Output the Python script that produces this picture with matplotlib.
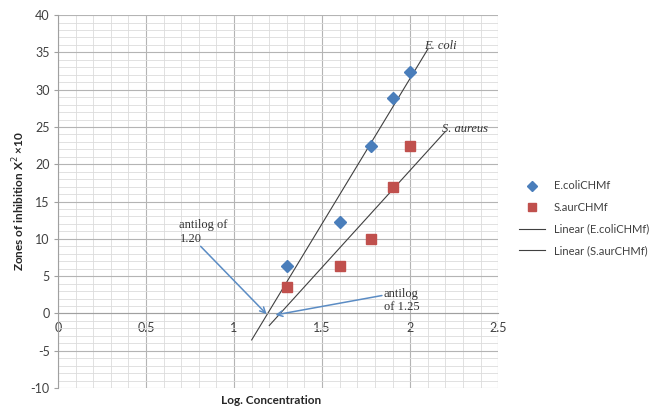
import numpy as np
import matplotlib
matplotlib.use("Agg")
import matplotlib.pyplot as plt
from matplotlib.ticker import MultipleLocator

# log10 of concentrations 20, 40, 60, 80, 100
log_conc = [1.301, 1.602, 1.778, 1.903, 2.0]
ecoli = [6.4, 12.2, 22.5, 28.9, 32.4]
saureus = [3.5, 6.3, 10.0, 16.9, 22.4]

# trendline extents (Excel forecast backward/forward)
ecoli_span = [1.10, 2.10]
saureus_span = [1.20, 2.20]

x_ticks = [0, 0.5, 1, 1.5, 2, 2.5]
x_tick_labels = ["0", "0.5", "1", "1.5", "2", "2.5"]

plt.rcParams["font.family"] = ["Lato", "DejaVu Sans"]
plt.rcParams["axes.unicode_minus"] = False

fig = plt.figure(figsize=(6.52, 4.08), dpi=100)
ax = fig.add_axes([0.089, 0.049, 0.675, 0.914])

ax.set_xlim(0, 2.5)
ax.set_ylim(-10, 40)
ax.xaxis.set_major_locator(MultipleLocator(0.5))
ax.xaxis.set_minor_locator(MultipleLocator(0.1))
ax.yaxis.set_major_locator(MultipleLocator(5))
ax.yaxis.set_minor_locator(MultipleLocator(1))
ax.grid(which="major", color="#b4b4b4", linewidth=0.8)
ax.grid(which="minor", color="#dcdcdc", linewidth=0.6)
ax.set_axisbelow(True)

for side in ["top", "right"]:
    ax.spines[side].set_visible(False)
ax.spines["bottom"].set_position(("data", 0))
ax.spines["bottom"].set_color("#a0a0a0")
ax.spines["left"].set_color("#a0a0a0")
ax.tick_params(which="both", length=0, labelsize=9, colors="#404040")
ax.tick_params(axis="y", which="major", length=3, color="#a0a0a0", pad=3)
ax.set_xticks(x_ticks)
ax.set_xticklabels(x_tick_labels)
ax.tick_params(axis="x", pad=6)

# points
ax.plot(log_conc, ecoli, "D", color="#4a7ebb", markersize=6, label="E.coliCHMf", zorder=3)
ax.plot(log_conc, saureus, "s", color="#c0504d", markersize=7, label="S.aurCHMf", zorder=3)

# linear trendlines
for xs, ys, span, name in [(log_conc, ecoli, ecoli_span, "Linear (E.coliCHMf)"),
                           (log_conc, saureus, saureus_span, "Linear (S.aurCHMf)")]:
    m, b = np.polyfit(xs, ys, 1)
    xx = np.array(span)
    ax.plot(xx, m * xx + b, color="#404040", linewidth=0.8, label=name, zorder=2)

serif = dict(family=["Liberation Serif", "DejaVu Serif"], fontsize=9, color="#333333")
ax.text(2.08, 35.0, "E. coli", style="italic", ha="left", va="bottom", **serif)
ax.text(2.18, 23.9, "S. aureus", style="italic", ha="left", va="bottom", **serif)

arrow = dict(arrowstyle="->", color="#5b8cc4", linewidth=1.1, shrinkA=0, shrinkB=0)
ax.annotate("", xy=(1.185, -0.1), xytext=(0.81, 9.0), arrowprops=arrow)
ax.text(0.69, 9.2, "antilog of\n1.20", ha="left", va="bottom", linespacing=1.25, **serif)
ax.annotate("", xy=(1.235, -0.2), xytext=(1.84, 2.4), arrowprops=arrow)
ax.text(1.85, 0.1, "antilog\nof 1.25", ha="left", va="bottom", linespacing=1.1, **serif)

ax.set_xlabel("Log. Concentration", fontsize=8.5, fontweight="bold", color="#262626")
ax.xaxis.set_label_coords(0.485, -0.02)
ax.set_ylabel("Zones of inhibition X$^2$ ×10", fontsize=8.5, fontweight="bold", color="#262626")
ax.yaxis.set_label_coords(-0.07, 0.5)

leg = ax.legend(loc="center left", bbox_to_anchor=(1.03, 0.455), frameon=False,
                fontsize=8, handlelength=2.3, labelspacing=0.95, borderaxespad=0.3,
                markerscale=0.85)
for t in leg.get_texts():
    t.set_color("#404040")

fig.savefig("out.png", dpi=100)
